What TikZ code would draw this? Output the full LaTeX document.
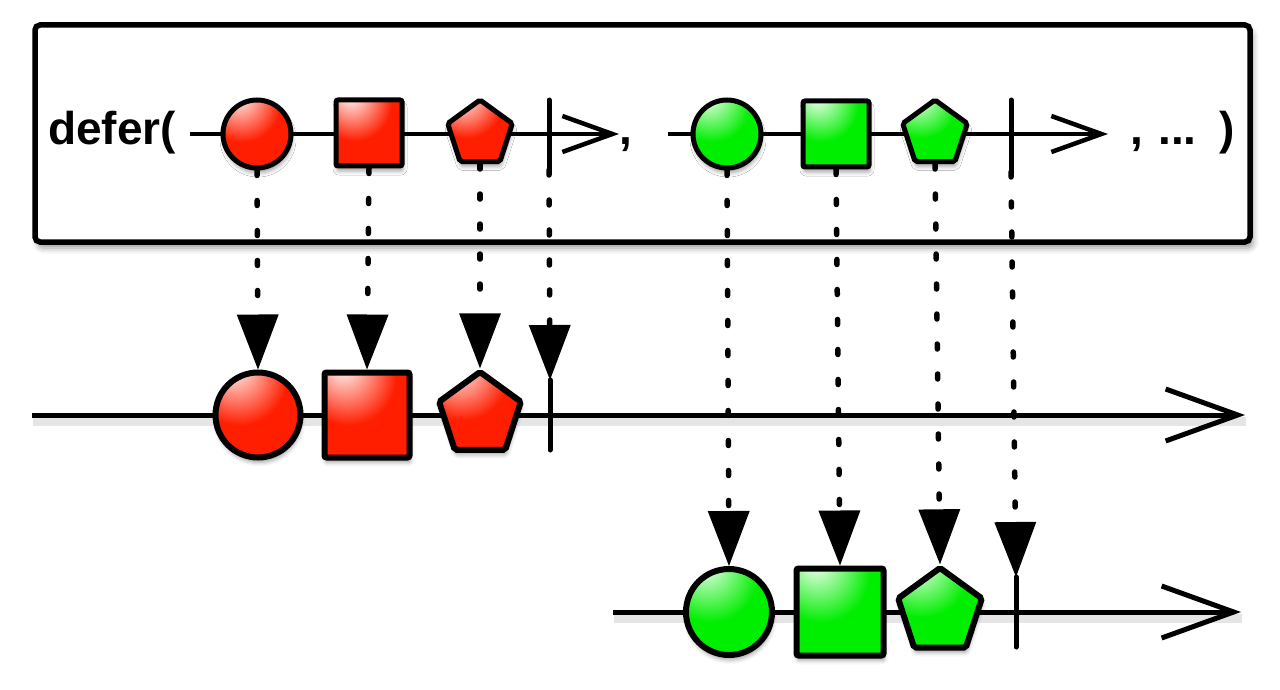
\documentclass[tikz,border=0pt]{standalone}
\usepackage{fontspec}
\setmainfont{Liberation Sans}
\usetikzlibrary{arrows.meta,shapes.geometric,shadows.blur}

\definecolor{marblered}{RGB}{255,30,0}
\definecolor{marblegreen}{RGB}{0,238,0}
\pgfdeclareradialshading{redmarble}{\pgfpoint{-15bp}{30bp}}{color(0bp)=(white); color(28bp)=(marblered); color(62bp)=(marblered); color(82bp)=(marblered!65!black); color(104bp)=(black)}
\pgfdeclareradialshading{greenmarble}{\pgfpoint{-15bp}{30bp}}{color(0bp)=(white); color(28bp)=(marblegreen); color(62bp)=(marblegreen); color(82bp)=(marblegreen!60!black); color(104bp)=(black)}

\begin{document}
\begin{tikzpicture}[x=1pt,y=-1pt,
	marble/.style={draw=black,line width=6pt,inner sep=0pt,rounded corners=2pt,shade,
		blur shadow={shadow xshift=1pt,shadow yshift=-5pt,shadow blur radius=4pt,shadow opacity=35}},
	red marble/.style={marble,shading=redmarble},
	green marble/.style={marble,shading=greenmarble},
	circ/.style={circle,minimum size=#1},
	sqr/.style={rectangle,minimum size=#1},
	pent/.style={regular polygon,regular polygon sides=5,minimum size=#1},
	link/.style={line width=5.5pt,line cap=round,dash pattern=on 5pt off 25pt,
		-{Triangle[length=55pt,width=42pt,fill=black,line width=0pt]}},
	line shadow/.style={preaction={draw=black,opacity=.1,line width=9pt,arrows=-,
		transform canvas={xshift=1pt,yshift=-6pt}}},
	timeline/.style={line width=5pt,line shadow,-{Straight Barb[length=72pt,width=52pt]}},
	top timeline/.style={line width=4.5pt,-{Straight Barb[length=50pt,width=36pt]}},
	end tick/.style={line width=5pt,line cap=round},
	caption text/.style={anchor=base west,inner sep=0pt,font=\bfseries\fontsize{46}{55}\selectfont}]
	\useasboundingbox (0,0) rectangle (1280,690);

	% the defer( ... ) box
	\draw[line width=5.5pt,rounded corners=5pt,fill=white,
		blur shadow={shadow xshift=3pt,shadow yshift=-6pt,shadow blur radius=6pt,shadow opacity=40}]
		(35,25) rectangle (1250,242);
	\node[caption text] (deferlabel) at (48,145) {defer(};
	\node[caption text] (comma) at (619,145) {,};
	\node[caption text] (more) at (1130,145) {,\,\,...\,\,\,)};

	% first observable, in the box
	\draw[top timeline] (190,134) -- (619,134);
	\draw[end tick] (549,100) -- (549,170);
	\coordinate (r4) at (549,170);
	\node[red marble,circ=68pt,line width=5pt] (r1) at (257,134) {};
	\node[red marble,sqr=66pt,line width=5pt] (r2) at (369,133) {};
	\node[red marble,pent=68pt,line width=5pt] (r3) at (480,134) {};

	% second observable, in the box
	\draw[top timeline] (668,134) -- (1108,134);
	\draw[end tick] (1011,100) -- (1011,172);
	\coordinate (g4) at (1011,172);
	\node[green marble,circ=68pt,line width=5pt] (g1) at (727,134) {};
	\node[green marble,sqr=66pt,line width=5pt] (g2) at (836,134) {};
	\node[green marble,pent=68pt,line width=5pt] (g3) at (935,134) {};

	% first subscription
	\draw[timeline] (32,415) -- (1245,415);
	\draw[end tick] (550,380) -- (550,450);
	\coordinate (rr4) at (550,380);
	\node[red marble,circ=85pt] (rr1) at (258,415) {};
	\node[red marble,sqr=85pt] (rr2) at (367,415) {};
	\node[red marble,pent=86pt] (rr3) at (480,415) {};

	% second subscription
	\draw[timeline] (613,612) -- (1241,612);
	\draw[end tick] (1016,577) -- (1016,647);
	\coordinate (gg4) at (1016,577);
	\node[green marble,circ=86pt] (gg1) at (729,612) {};
	\node[green marble,sqr=87pt] (gg2) at (840,612) {};
	\node[green marble,pent=88pt] (gg3) at (940,612) {};

	% emissions
	\draw[link] (r1.south) -- (rr1.north);
	\draw[link] (r2.south) -- (rr2.north);
	\draw[link] (r3.south) -- (rr3.north);
	\draw[link] (r4) -- (rr4);
	\draw[link] (g1.south) -- (gg1.north);
	\draw[link] (g2.south) -- (gg2.north);
	\draw[link] (g3.south) -- (gg3.north);
	\draw[link] (g4) -- (gg4);
\end{tikzpicture}
\end{document}
